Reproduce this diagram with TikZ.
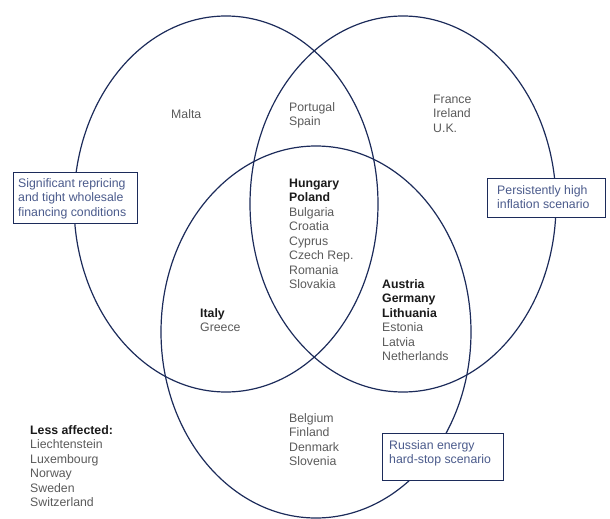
\documentclass[tikz,border=0pt]{standalone}
\usepackage{fontspec}
\setmainfont{Liberation Sans}
\definecolor{navy}{HTML}{1C2B5A}
\definecolor{greytxt}{HTML}{5A5A5A}
\definecolor{boldtxt}{HTML}{1A1A1A}
\definecolor{boxtxt}{HTML}{4B5B8C}
\begin{document}
\begin{tikzpicture}[x=1pt,y=-1pt,
  venn/.style={draw=navy,line width=1.2pt},
  lbl/.style={anchor=base west,inner sep=0pt,text=greytxt,font=\fontsize{12.3}{14.5}\selectfont},
  lblb/.style={lbl,text=boldtxt,font=\fontsize{12.3}{14.5}\selectfont\bfseries},
  scen/.style={draw=navy,line width=1pt,fill=white,inner sep=0pt},
  scentxt/.style={anchor=base west,inner sep=0pt,text=boxtxt,font=\fontsize{12.3}{14.5}\selectfont}]
\useasboundingbox (0,0) rectangle (610,519);
% circles
\draw[venn] (226,204) ellipse [x radius=152, y radius=188];
\draw[venn] (403,204) ellipse [x radius=153, y radius=188];
\draw[venn] (316,332) ellipse [x radius=155, y radius=186];
% region labels
\node[lbl] (malta) at (171,118) {Malta};
\foreach \t [count=\i] in {Portugal,Spain}
  \node[lbl] (ps-\i) at (289,111+14.5*\i-14.5) {\t};
\foreach \t [count=\i] in {France,Ireland,U.K.}
  \node[lbl] (fr-\i) at (433,103+14.5*\i-14.5) {\t};
\foreach \t [count=\i] in {Hungary,Poland}
  \node[lblb] (hu-\i) at (289,187+14.5*\i-14.5) {\t};
\foreach \t [count=\i] in {Bulgaria,Croatia,Cyprus,Czech Rep.,Romania,Slovakia}
  \node[lbl] (bg-\i) at (289,201.5+14.5*\i) {\t};
\foreach \t [count=\i] in {Austria,Germany,Lithuania}
  \node[lblb] (at-\i) at (382,288+14.5*\i-14.5) {\t};
\foreach \t [count=\i] in {Estonia,Latvia,Netherlands}
  \node[lbl] (ee-\i) at (382,317+14.5*\i) {\t};
\node[lblb] (italy) at (200,317) {Italy};
\node[lbl] (greece) at (200,331.5) {Greece};
\foreach \t [count=\i] in {Belgium,Finland,Denmark,Slovenia}
  \node[lbl] (be-\i) at (289,422+14.5*\i-14.5) {\t};
\node[lblb] (less) at (30,434) {Less affected:};
\foreach \t [count=\i] in {Liechtenstein,Luxembourg,Norway,Sweden,Switzerland}
  \node[lbl] (li-\i) at (30,434+14.5*\i) {\t};
% scenario boxes
\node[scen,minimum width=124pt,minimum height=51pt] (box1) at (75,197.5) {};
\foreach \t [count=\i] in {Significant repricing,and tight wholesale,financing conditions}
  \node[scentxt] (b1-\i) at (18,187+14.5*\i-14.5) {\t};
\node[scen,minimum width=118pt,minimum height=39pt] (box2) at (546,197.5) {};
\foreach \t [count=\i] in {Persistently high,inflation scenario}
  \node[scentxt] (b2-\i) at (497,194.5+13.5*\i-13.5) {\t};
\node[scen,minimum width=121pt,minimum height=47pt] (box3) at (442.5,456.5) {};
\foreach \t [count=\i] in {Russian energy,hard-stop scenario}
  \node[scentxt] (b3-\i) at (389,449+14.5*\i-14.5) {\t};
\end{tikzpicture}
\end{document}
